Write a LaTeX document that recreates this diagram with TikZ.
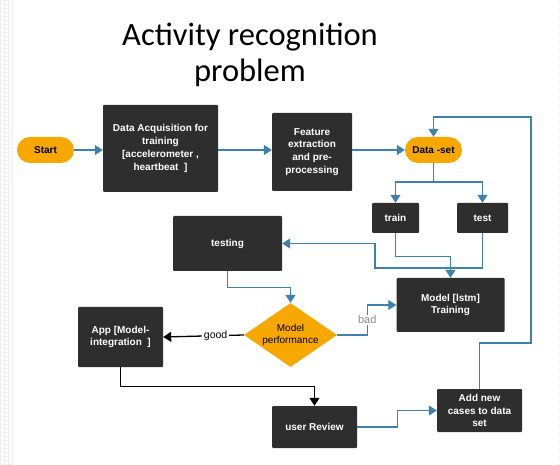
\documentclass[tikz,border=0pt]{standalone}
\usepackage{fontspec}
\setmainfont{Liberation Sans}
\newfontfamily\titlefont{Carlito}
\usetikzlibrary{arrows.meta,shapes.geometric,calc}
\definecolor{boxdark}{HTML}{2E2E2E}
\definecolor{orng}{HTML}{F7A800}
\definecolor{flowblue}{HTML}{3D82AA}
\definecolor{gridc}{HTML}{F0F0F0}
\tikzset{
  darkbox/.style={draw=none, fill=boxdark, text=white, font=\bfseries\fontsize{10}{12.8}\selectfont, align=center, inner sep=1pt, rounded corners=1pt},
  pill/.style={draw=none, fill=orng, text=black, font=\bfseries\fontsize{10}{12}\selectfont, rounded corners=13pt, minimum width=57pt, minimum height=26pt, inner sep=0pt},
  decision/.style={diamond, draw=none, fill=orng, text=black, font=\fontsize{10}{12.5}\selectfont, align=center, minimum width=93pt, minimum height=64pt, inner sep=0pt, aspect=1.45},
  titletext/.style={font=\titlefont\fontsize{32.5}{36}\selectfont, anchor=base, inner sep=0pt},
  flow/.style={draw=flowblue, line width=1.3pt, -{Triangle[width=10pt,length=8pt]}},
  flowline/.style={draw=flowblue, line width=1.3pt},
  flowk/.style={draw=black, line width=1.3pt, -{Triangle[width=10pt,length=8pt]}},
}
\begin{document}
\begin{tikzpicture}[x=1pt,y=-1pt]
\useasboundingbox (0,0) rectangle (560,465);
\fill[white] (0,0) rectangle (560,465);
\draw[gridc, line width=0.4pt, step=4pt] (0,0) grid (13,465);
\draw[gridc, line width=0.4pt, step=4pt] (557,0) grid (560,465);

\node[titletext] (title1) at (250,46) {Activity recognition};
\node[titletext] (title2) at (250,82) {problem};

\node[pill] (start) at (45.5,150) {Start};
\node[darkbox, minimum width=115pt, minimum height=87pt] (acq) at (160.5,148.5) {Data Acquisition for\\training\\{}[accelerometer ,\\heartbeat\ \ ]};
\node[darkbox, minimum width=80pt, minimum height=78pt] (feat) at (312,152) {Feature\\extraction\\and pre-\\processing};
\node[pill] (ds) at (433.5,150) {Data -set};
\node[darkbox, minimum width=47pt, minimum height=30pt] (train) at (395.5,218) {train};
\node[darkbox, minimum width=51pt, minimum height=30pt] (test) at (482.5,218) {test};
\node[darkbox, minimum width=109pt, minimum height=55pt] (testing) at (227.5,243.5) {testing};
\node[decision] (perf) at (290.5,335) {Model\\performance};
\node[darkbox, minimum width=108pt, minimum height=54pt] (model) at (450.5,305) {Model [lstm]\\Training};
\node[darkbox, minimum width=85pt, minimum height=60pt] (app) at (120.5,337) {App [Model-\\integration\ \ ]};
\node[darkbox, minimum width=85pt, minimum height=42pt] (review) at (314.5,427) {user Review};
\node[darkbox, minimum width=85pt, minimum height=43pt] (add) at (479.5,410.5) {Add new\\cases to data\\set};

\coordinate (loopA) at (531,343);
\coordinate (loopB) at (531,117);
\coordinate (split) at (433.5,182);
\coordinate (tbend) at (375,268);

\draw[flow] (start.east) -- (start.east -| acq.west);
\draw[flow] (acq.east |- start) -- (feat.west |- start);
\draw[flow] (feat.east |- ds) -- (ds.west);
\draw[flow] (add.north) |- (loopA) -- (loopB) -| (ds.north);
\draw[flowline] (ds.south) -- (split);
\draw[flow] (split) -| (train.north);
\draw[flow] (split) -| (test.north);
\draw[flow] (train.south) -- ++(0,23) -| (model.north);
\draw[flow] (test.south) |- (tbend) |- (testing.east);
\draw[flow] (testing.south) -- ++(0,16) -| (perf.north);
\draw[flow] (perf.east) -- ++(30,0) |- node[pos=0.25, fill=white, text=gray!90, font=\fontsize{11}{13}\selectfont, inner sep=1pt] {bad} (model.west);
\draw[flowk] (perf.west) -- node[pos=0.35, fill=white, text=black, font=\fontsize{10.5}{12}\selectfont, inner sep=2pt] {good} (app.east);
\draw[flowk] (app.south) -- ++(0,19) -| (review.north);
\draw[flow] (review.east) -- ++(40,0) |- (add.west);
\end{tikzpicture}
\end{document}
